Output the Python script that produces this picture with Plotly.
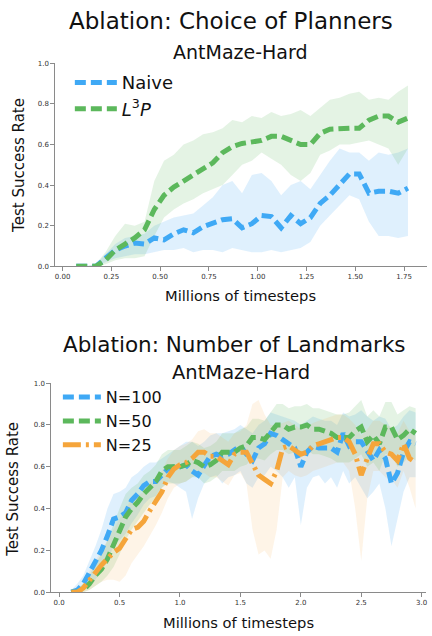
import plotly.graph_objects as go

# ---------------- Top chart data: Choice of Planners ----------------
top_x = [0.07, 0.12, 0.17, 0.22, 0.27, 0.32, 0.37, 0.42, 0.47, 0.52, 0.57, 0.62,
         0.67, 0.72, 0.77, 0.82, 0.87, 0.92, 0.97, 1.02, 1.07, 1.12, 1.17, 1.22,
         1.27, 1.32, 1.37, 1.42, 1.47, 1.52, 1.57, 1.62, 1.67, 1.72, 1.77]
naive_mean = [0.0, 0.0, 0.0, 0.04, 0.08, 0.10, 0.115, 0.11, 0.14, 0.13, 0.16, 0.18,
              0.165, 0.195, 0.21, 0.23, 0.235, 0.19, 0.21, 0.25, 0.245, 0.19, 0.25, 0.21,
              0.24, 0.31, 0.35, 0.40, 0.455, 0.455, 0.36, 0.37, 0.37, 0.36, 0.385]
naive_low = [0.0, 0.0, 0.0, 0.02, 0.04, 0.05, 0.06, 0.06, 0.07, 0.08, 0.08, 0.09,
             0.07, 0.08, 0.08, 0.07, 0.09, 0.08, 0.07, 0.07, 0.08, 0.07, 0.08, 0.09,
             0.12, 0.20, 0.25, 0.30, 0.35, 0.33, 0.22, 0.15, 0.15, 0.14, 0.15]
naive_high = [0.0, 0.0, 0.01, 0.06, 0.11, 0.14, 0.15, 0.16, 0.20, 0.22, 0.24, 0.25,
              0.26, 0.30, 0.34, 0.40, 0.42, 0.36, 0.45, 0.46, 0.42, 0.35, 0.40, 0.42,
              0.38, 0.45, 0.52, 0.58, 0.56, 0.56, 0.52, 0.56, 0.55, 0.56, 0.58]
l3p_mean = [0.0, 0.0, 0.0, 0.03, 0.08, 0.11, 0.14, 0.18, 0.28, 0.35, 0.39, 0.42,
            0.45, 0.485, 0.51, 0.56, 0.59, 0.605, 0.61, 0.62, 0.64, 0.64, 0.62, 0.60,
            0.60, 0.655, 0.675, 0.68, 0.68, 0.68, 0.72, 0.74, 0.74, 0.71, 0.73]
l3p_low = [0.0, 0.0, 0.0, 0.01, 0.03, 0.04, 0.04, 0.05, 0.15, 0.24, 0.28, 0.31,
           0.33, 0.36, 0.38, 0.40, 0.45, 0.50, 0.52, 0.56, 0.53, 0.50, 0.45, 0.42,
           0.46, 0.55, 0.57, 0.60, 0.60, 0.61, 0.62, 0.60, 0.58, 0.50, 0.58]
l3p_high = [0.0, 0.0, 0.01, 0.07, 0.15, 0.21, 0.20, 0.22, 0.42, 0.52, 0.55, 0.60,
            0.62, 0.65, 0.66, 0.68, 0.72, 0.71, 0.74, 0.73, 0.76, 0.74, 0.75, 0.77,
            0.74, 0.78, 0.82, 0.83, 0.85, 0.86, 0.82, 0.83, 0.82, 0.86, 0.89]

# ---------------- Bottom chart data: Number of Landmarks ----------------
bot_x = [0.10, 0.15, 0.20, 0.25, 0.30, 0.35, 0.40, 0.45, 0.50, 0.55,
         0.60, 0.65, 0.70, 0.75, 0.80, 0.85, 0.90, 0.95, 1.00, 1.05,
         1.10, 1.15, 1.20, 1.25, 1.30, 1.35, 1.40, 1.45, 1.50, 1.55,
         1.60, 1.65, 1.70, 1.75, 1.80, 1.85, 1.90, 1.95, 2.00, 2.05,
         2.10, 2.15, 2.20, 2.25, 2.30, 2.35, 2.40, 2.45, 2.50, 2.55,
         2.60, 2.65, 2.70, 2.75, 2.80, 2.85, 2.90, 2.95]
n100_mean = [0.0, 0.01, 0.04, 0.09, 0.14, 0.20, 0.27, 0.35, 0.36, 0.38,
             0.44, 0.47, 0.51, 0.53, 0.53, 0.56, 0.59, 0.60, 0.60, 0.61,
             0.58, 0.56, 0.61, 0.65, 0.66, 0.65, 0.66, 0.68, 0.70, 0.66,
             0.63, 0.69, 0.71, 0.76, 0.75, 0.73, 0.71, 0.69, 0.60, 0.67,
             0.70, 0.69, 0.69, 0.69, 0.67, 0.76, 0.70, 0.72, 0.72, 0.68,
             0.63, 0.68, 0.64, 0.52, 0.57, 0.67, 0.72, 0.71]
n100_low = [0.0, 0.0, 0.01, 0.03, 0.06, 0.10, 0.15, 0.22, 0.25, 0.28,
            0.33, 0.37, 0.42, 0.45, 0.46, 0.50, 0.53, 0.52, 0.50, 0.48,
            0.35, 0.45, 0.52, 0.55, 0.56, 0.52, 0.55, 0.56, 0.58, 0.52,
            0.50, 0.55, 0.56, 0.60, 0.58, 0.55, 0.50, 0.55, 0.32, 0.50,
            0.55, 0.56, 0.52, 0.55, 0.50, 0.58, 0.52, 0.55, 0.50, 0.45,
            0.48, 0.52, 0.40, 0.22, 0.35, 0.48, 0.55, 0.55]
n100_high = [0.01, 0.04, 0.08, 0.15, 0.22, 0.30, 0.40, 0.47, 0.48, 0.50,
             0.55, 0.57, 0.60, 0.62, 0.62, 0.64, 0.66, 0.68, 0.70, 0.72,
             0.72, 0.70, 0.72, 0.75, 0.76, 0.76, 0.77, 0.78, 0.80, 0.78,
             0.76, 0.80, 0.82, 0.86, 0.85, 0.84, 0.83, 0.82, 0.80, 0.82,
             0.84, 0.83, 0.82, 0.82, 0.80, 0.86, 0.84, 0.85, 0.87, 0.84,
             0.82, 0.84, 0.83, 0.78, 0.80, 0.84, 0.87, 0.86]
n50_mean = [0.0, 0.0, 0.01, 0.04, 0.08, 0.11, 0.16, 0.23, 0.30, 0.36,
            0.40, 0.43, 0.47, 0.50, 0.53, 0.58, 0.60, 0.60, 0.60, 0.61,
            0.63, 0.62, 0.60, 0.61, 0.63, 0.67, 0.67, 0.67, 0.69, 0.70,
            0.74, 0.74, 0.73, 0.77, 0.80, 0.80, 0.78, 0.79, 0.79, 0.80,
            0.78, 0.78, 0.77, 0.76, 0.74, 0.74, 0.74, 0.77, 0.79, 0.72,
            0.75, 0.71, 0.79, 0.79, 0.73, 0.75, 0.78, 0.76]
n50_low = [0.0, 0.0, 0.0, 0.01, 0.03, 0.05, 0.08, 0.12, 0.18, 0.25,
           0.30, 0.34, 0.38, 0.42, 0.45, 0.50, 0.52, 0.52, 0.52, 0.53,
           0.55, 0.55, 0.52, 0.53, 0.55, 0.58, 0.58, 0.58, 0.60, 0.61,
           0.64, 0.64, 0.63, 0.66, 0.68, 0.68, 0.66, 0.67, 0.67, 0.68,
           0.66, 0.66, 0.65, 0.64, 0.62, 0.62, 0.62, 0.64, 0.66, 0.60,
           0.62, 0.58, 0.66, 0.66, 0.60, 0.62, 0.65, 0.63]
n50_high = [0.01, 0.02, 0.04, 0.08, 0.14, 0.18, 0.25, 0.33, 0.40, 0.47,
            0.50, 0.52, 0.56, 0.58, 0.61, 0.66, 0.68, 0.68, 0.68, 0.70,
            0.72, 0.71, 0.69, 0.70, 0.72, 0.76, 0.76, 0.76, 0.78, 0.79,
            0.83, 0.83, 0.82, 0.86, 0.90, 0.90, 0.88, 0.89, 0.89, 0.90,
            0.88, 0.88, 0.87, 0.86, 0.85, 0.85, 0.86, 0.89, 0.92, 0.84,
            0.87, 0.84, 0.91, 0.91, 0.85, 0.87, 0.89, 0.88]
n25_mean = [0.0, 0.0, 0.02, 0.06, 0.09, 0.13, 0.16, 0.19, 0.21, 0.25,
            0.30, 0.31, 0.34, 0.39, 0.43, 0.48, 0.55, 0.59, 0.61, 0.62,
            0.64, 0.67, 0.67, 0.65, 0.65, 0.63, 0.61, 0.66, 0.67, 0.67,
            0.62, 0.56, 0.54, 0.52, 0.58, 0.69, 0.70, 0.68, 0.66, 0.67,
            0.70, 0.71, 0.72, 0.73, 0.74, 0.74, 0.72, 0.66, 0.56, 0.64,
            0.71, 0.71, 0.67, 0.66, 0.63, 0.71, 0.64, 0.62]
n25_low = [0.0, 0.0, 0.0, 0.01, 0.03, 0.05, 0.06, 0.06, 0.05, 0.08,
           0.14, 0.18, 0.22, 0.27, 0.32, 0.38, 0.45, 0.50, 0.52, 0.53,
           0.55, 0.57, 0.57, 0.55, 0.55, 0.53, 0.51, 0.56, 0.57, 0.52,
           0.30, 0.18, 0.20, 0.16, 0.30, 0.55, 0.58, 0.56, 0.55, 0.56,
           0.58, 0.59, 0.60, 0.61, 0.62, 0.62, 0.58, 0.40, 0.15, 0.45,
           0.58, 0.58, 0.55, 0.54, 0.50, 0.58, 0.50, 0.40]
n25_high = [0.0, 0.01, 0.04, 0.10, 0.15, 0.20, 0.25, 0.30, 0.35, 0.40,
            0.45, 0.46, 0.48, 0.52, 0.55, 0.58, 0.64, 0.68, 0.70, 0.71,
            0.73, 0.77, 0.78, 0.76, 0.76, 0.74, 0.72, 0.76, 0.77, 0.80,
            0.90, 0.92, 0.85, 0.80, 0.80, 0.81, 0.82, 0.80, 0.78, 0.79,
            0.81, 0.82, 0.83, 0.84, 0.85, 0.85, 0.83, 0.80, 0.75, 0.78,
            0.82, 0.82, 0.80, 0.79, 0.76, 0.82, 0.77, 0.75]

top_ticks = [0.0, 0.25, 0.5, 0.75, 1.0, 1.25, 1.5, 1.75]
bot_ticks = [0.0, 0.5, 1.0, 1.5, 2.0, 2.5, 3.0]
y_ticks = [0.0, 0.2, 0.4, 0.6, 0.8, 1.0]

for arr in (naive_mean, naive_low, naive_high, l3p_mean, l3p_low, l3p_high):
    assert len(arr) == len(top_x)
for arr in (n100_mean, n100_low, n100_high, n50_mean, n50_low, n50_high,
            n25_mean, n25_low, n25_high):
    assert len(arr) == len(bot_x)

BLUE = "#3fa9f5"
GREEN = "#5cb85c"
ORANGE = "#f5a53b"
BLUE_FILL = "rgba(63,169,245,0.17)"
GREEN_FILL = "rgba(92,184,92,0.17)"
ORANGE_FILL = "rgba(245,165,59,0.12)"

FONT = "DejaVu Sans"
fig = go.Figure()


def band(x, lo, hi, fill, xa, ya):
    fig.add_trace(go.Scatter(x=x, y=lo, mode="lines", line=dict(width=0),
                             showlegend=False, hoverinfo="skip", xaxis=xa, yaxis=ya))
    fig.add_trace(go.Scatter(x=x, y=hi, mode="lines", line=dict(width=0),
                             fill="tonexty", fillcolor=fill, showlegend=False,
                             hoverinfo="skip", xaxis=xa, yaxis=ya))


DASH = "11px,5px"
DASHDOT = "18px,5px,3px,5px"
LW = 5

band(top_x, naive_low, naive_high, BLUE_FILL, "x", "y")
band(top_x, l3p_low, l3p_high, GREEN_FILL, "x", "y")
fig.add_trace(go.Scatter(x=top_x, y=naive_mean, mode="lines", name="Naive",
                         line=dict(color=BLUE, width=LW, dash=DASH),
                         xaxis="x", yaxis="y", legend="legend"))
fig.add_trace(go.Scatter(x=top_x, y=l3p_mean, mode="lines",
                         name="<i>L</i><sup>3</sup><i>P</i>",
                         line=dict(color=GREEN, width=LW, dash=DASH),
                         xaxis="x", yaxis="y", legend="legend"))

band(bot_x, n100_low, n100_high, BLUE_FILL, "x2", "y2")
band(bot_x, n50_low, n50_high, GREEN_FILL, "x2", "y2")
band(bot_x, n25_low, n25_high, ORANGE_FILL, "x2", "y2")
fig.add_trace(go.Scatter(x=bot_x, y=n100_mean, mode="lines", name="N=100",
                         line=dict(color=BLUE, width=LW, dash=DASH),
                         xaxis="x2", yaxis="y2", legend="legend2"))
fig.add_trace(go.Scatter(x=bot_x, y=n50_mean, mode="lines", name="N=50",
                         line=dict(color=GREEN, width=LW, dash=DASH),
                         xaxis="x2", yaxis="y2", legend="legend2"))
fig.add_trace(go.Scatter(x=bot_x, y=n25_mean, mode="lines", name="N=25",
                         line=dict(color=ORANGE, width=LW, dash=DASHDOT),
                         xaxis="x2", yaxis="y2", legend="legend2"))

W, H = 432, 636
axis_common = dict(showline=True, linecolor="#8a8a8a", linewidth=1, ticks="outside",
                   ticklen=3.5, tickcolor="#8a8a8a", tickwidth=1, showgrid=False,
                   zeroline=False, tickfont=dict(family=FONT, size=7, color="#333"))

fig.update_layout(
    width=W, height=H, margin=dict(l=0, r=0, t=0, b=0),
    paper_bgcolor="white", plot_bgcolor="white",
    font=dict(family=FONT, color="#111"),
    xaxis=dict(domain=[55 / W, 428 / W], range=[-0.0394, 1.8676], anchor="y",
               tickvals=top_ticks, tickformat=".2f", **axis_common),
    yaxis=dict(domain=[1 - 265.7 / H, 1 - 60 / H], range=[0, 1], anchor="x",
               tickvals=y_ticks, tickformat=".1f", **axis_common),
    xaxis2=dict(domain=[51 / W, 427 / W], range=[-0.0685, 3.036], anchor="y2",
                tickvals=bot_ticks, tickformat=".1f", **axis_common),
    yaxis2=dict(domain=[1 - 595.7 / H, 1 - 384 / H], range=[0, 1], anchor="x2",
                tickvals=y_ticks, tickformat=".1f", **axis_common),
    legend=dict(x=70 / W, y=1 - 61 / H, xanchor="left", yanchor="top",
                bgcolor="rgba(0,0,0,0)", font=dict(family=FONT, size=18, color="#111"),
                itemwidth=42, tracegroupgap=0, traceorder="normal"),
    legend2=dict(x=58 / W, y=1 - 381 / H, xanchor="left", yanchor="top",
                 bgcolor="rgba(0,0,0,0)", font=dict(family=FONT, size=16, color="#111"),
                 itemwidth=38, tracegroupgap=0, traceorder="normal"),
)

annos = [
    dict(text="Ablation: Choice of Planners", x=232 / W, y=1 - 17 / H, size=23),
    dict(text="AntMaze-Hard", x=241 / W, y=1 - 49 / H, size=19),
    dict(text="Millions of timesteps", x=241 / W, y=1 - 295 / H, size=14.7),
    dict(text="Ablation: Number of Landmarks", x=235 / W, y=1 - 345 / H, size=21.5),
    dict(text="AntMaze-Hard", x=242 / W, y=1 - 373 / H, size=19.5),
    dict(text="Millions of timesteps", x=239 / W, y=1 - 626 / H, size=14.7),
]
for a in annos:
    fig.add_annotation(text=a["text"], x=a["x"], y=a["y"], xref="paper", yref="paper",
                       xanchor="center", yanchor="middle", showarrow=False,
                       font=dict(family=FONT, size=a["size"], color="#111"))
for yc, xc in ((163, 19), (491, 13)):
    fig.add_annotation(text="Test Success Rate", x=xc / W, y=1 - yc / H,
                       xref="paper", yref="paper", xanchor="center", yanchor="middle",
                       textangle=-90, showarrow=False,
                       font=dict(family=FONT, size=15, color="#111"))

fig.write_html("out.html", config={"displayModeBar": False},
               post_script="document.body.style.margin='0';")
